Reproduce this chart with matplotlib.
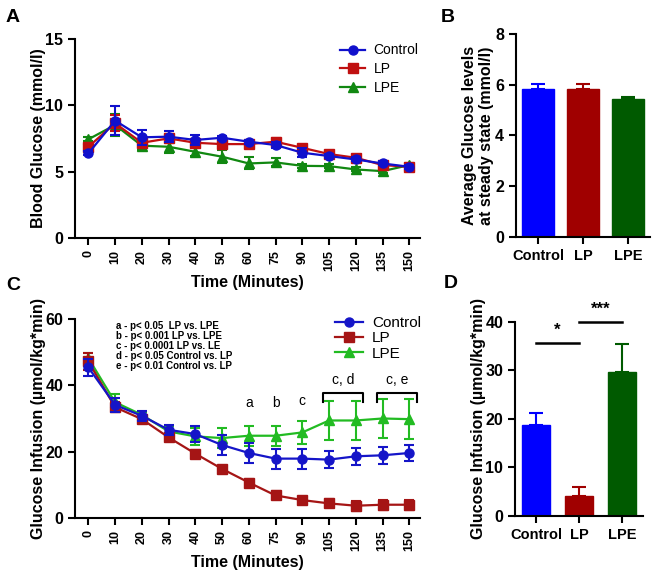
import numpy as np
import matplotlib
matplotlib.use('Agg')
import matplotlib.pyplot as plt
from matplotlib.lines import Line2D

plt.rcParams['font.family'] = ['Liberation Sans', 'DejaVu Sans']

# Panel A/C time points (categorical)
times = ["0", "10", "20", "30", "40", "50", "60", "75", "90", "105", "120", "135", "150"]
groups = ["Control", "LP", "LPE"]

# Panel A: blood glucose (mmol/l)
glu_control = [6.38, 8.85, 7.59, 7.64, 7.39, 7.56, 7.26, 7.01, 6.43, 6.18, 5.92, 5.62, 5.37]
glu_control_err = [0.15, 1.1, 0.55, 0.4, 0.4, 0.15, 0.15, 0.2, 0.35, 0.15, 0.15, 0.15, 0.15]
glu_lp = [6.88, 8.65, 7.18, 7.51, 7.18, 7.08, 7.08, 7.26, 6.80, 6.33, 6.05, 5.50, 5.37]
glu_lp_err = [0.3, 0.6, 0.3, 0.35, 0.25, 0.25, 0.2, 0.3, 0.2, 0.15, 0.15, 0.15, 0.15]
glu_lpe = [7.44, 8.52, 6.96, 6.88, 6.50, 6.13, 5.62, 5.70, 5.44, 5.42, 5.17, 5.04, 5.50]
glu_lpe_err = [0.15, 0.8, 0.3, 0.45, 0.35, 0.5, 0.45, 0.3, 0.15, 0.15, 0.15, 0.15, 0.15]

# Panel B: average glucose at steady state
avg_glu = [5.83, 5.83, 5.42]
avg_glu_err = [0.19, 0.19, 0.1]

# Panel C: glucose infusion (umol/kg*min)
inf_control = [45.4, 34.1, 30.8, 26.6, 25.3, 22.0, 19.6, 17.9, 17.9, 17.6, 18.6, 18.9, 19.6]
inf_control_err = [2.5, 2.0, 1.5, 1.5, 2.5, 3.0, 3.0, 3.0, 3.0, 2.5, 2.5, 2.5, 2.5]
inf_lp = [47.2, 33.4, 29.8, 24.3, 19.4, 14.8, 10.7, 6.8, 5.4, 4.4, 3.7, 4.0, 4.0]
inf_lp_err = [2.5, 1.5, 1.0, 1.0, 1.0, 1.0, 1.0, 1.2, 1.0, 1.2, 1.5, 1.5, 1.5]
inf_lpe = [48.2, 34.9, 31.1, 26.1, 24.6, 24.1, 24.8, 24.8, 25.8, 29.4, 29.4, 30.0, 29.8]
inf_lpe_err = [1.5, 2.5, 1.0, 1.5, 2.5, 3.0, 3.0, 3.0, 3.5, 5.8, 5.8, 6.0, 6.0]

# Panel D: average glucose infusion
avg_inf = [18.7, 4.2, 29.7]
avg_inf_err = [2.5, 1.7, 5.7]

stats_lines = ["a - p< 0.05  LP vs. LPE",
               "b - p< 0.001 LP vs. LPE",
               "c - p< 0.0001 LP vs. LE",
               "d - p< 0.05 Control vs. LP",
               "e - p< 0.01 Control vs. LP"]

fig = plt.figure(figsize=(6.66, 5.73), dpi=100)
axA = fig.add_axes([0.1126, 0.5846, 0.518, 0.3473])
axB = fig.add_axes([0.7748, 0.5864, 0.2012, 0.3543])
axC = fig.add_axes([0.1126, 0.0960, 0.518, 0.3473])
axD = fig.add_axes([0.7733, 0.0995, 0.1922, 0.3386])


def style_axes(ax):
    for s in ['top', 'right']:
        ax.spines[s].set_visible(False)
    for s in ['left', 'bottom']:
        ax.spines[s].set_linewidth(1.5)
    ax.tick_params(width=1.5, length=5)
    for lab in ax.get_yticklabels():
        lab.set_fontweight('bold')
        lab.set_fontsize(11.5)
    for lab in ax.get_xticklabels():
        lab.set_fontweight('bold')


def line_panel(ax, series, colors, ylim, yticks, ylabel, legsize, legspacing, anchor):
    x = np.arange(len(times))
    markers = ['o', 's', '^']
    # draw LPE first so Control sits on top
    for i in [2, 1, 0]:
        y, e = series[i]
        ax.errorbar(x, y, yerr=e, color=colors[i], marker=markers[i], ms=6.5,
                    lw=1.6, elinewidth=1.5, capsize=3.5, capthick=1.5,
                    zorder=3 + (2 - i))
    handles = [Line2D([], [], color=colors[i], marker=markers[i], ms=6.5, lw=1.6)
               for i in range(3)]
    ax.set_xlim(-0.5, 12.4)
    ax.set_ylim(*ylim)
    ax.set_yticks(yticks)
    ax.set_xticks(x)
    ax.set_xticklabels(times, rotation=90, fontsize=9)
    ax.set_xlabel("Time (Minutes)", fontsize=11.5, fontweight='bold', labelpad=3)
    ax.set_ylabel(ylabel, fontsize=11.5, fontweight='bold')
    ax.yaxis.set_label_coords(-0.084, 0.5)
    style_axes(ax)
    ax.legend(handles=handles, labels=groups, loc='upper right', frameon=False,
              fontsize=legsize, handlelength=1.8, labelspacing=legspacing,
              handletextpad=0.6, bbox_to_anchor=anchor, borderaxespad=0.2)


def bar_panel(ax, vals, errs, colors, ylim, yticks, ylabel, width, labx):
    x = np.arange(len(groups))
    ax.bar(x, vals, width=width, color=colors, edgecolor=colors, linewidth=1, zorder=2)
    for xi, v, e, c in zip(x, vals, errs, colors):
        ax.errorbar(xi, v, yerr=[[0], [e]], color=c, capsize=5, capthick=1.5,
                    elinewidth=1.5, zorder=3)
    ax.set_xlim(-0.49, 2.49)
    ax.set_ylim(*ylim)
    ax.set_yticks(yticks)
    ax.set_xticks(x)
    ax.set_xticklabels(groups, fontsize=10.5)
    ax.set_ylabel(ylabel, fontsize=11.5, fontweight='bold')
    ax.yaxis.set_label_coords(labx, 0.5)
    style_axes(ax)


# Panel A
line_panel(axA, [(glu_control, glu_control_err), (glu_lp, glu_lp_err), (glu_lpe, glu_lpe_err)],
           ['#1010CC', '#C01010', '#118811'], (0, 15), [0, 5, 10, 15],
           "Blood Glucose (mmol/l)", 10, 0.35, (1.02, 1.02))

# Panel B
bar_panel(axB, avg_glu, avg_glu_err, ['#0000FF', '#A00000', '#005A00'], (0, 8),
          [0, 2, 4, 6, 8], "Average Glucose levels\nat steady state (mmol/l)", 0.73, -0.165)

# Panel C
line_panel(axC, [(inf_control, inf_control_err), (inf_lp, inf_lp_err), (inf_lpe, inf_lpe_err)],
           ['#1515C8', '#A51515', '#22BB22'], (0, 60), [0, 20, 40, 60],
           "Glucose Infusion (\u00b5mol/kg*min)", 11, 0.08, (1.03, 1.06))
for i, line in enumerate(stats_lines):
    axC.text(1.05, 59.3 - i * 3.0, line, fontsize=7, fontweight='bold', va='top', ha='left')
for idx, lab in [(6, "a"), (7, "b")]:
    axC.text(idx, 34.6, lab, fontsize=10, ha='center', va='center')
axC.text(8, 35.2, "c", fontsize=10, ha='center', va='center')
for x0, x1, lab in [(8.78, 10.28, "c, d"), (10.8, 12.3, "c, e")]:
    axC.plot([x0, x0, x1, x1], [35.0, 37.7, 37.7, 35.0], color='black', lw=1.5, clip_on=False)
    axC.text((x0 + x1) / 2, 41.6, lab, fontsize=10, ha='center', va='center')

# Panel D
bar_panel(axD, avg_inf, avg_inf_err, ['#0000FF', '#A00000', '#005A00'], (0, 40),
          [0, 10, 20, 30, 40], "Glucose Infusion (\u00b5mol/kg*min)", 0.65, -0.227)
axD.plot([0, 1], [35.7, 35.7], color='black', lw=1.8, clip_on=False)
axD.text(0.5, 36.8, "*", fontsize=12, ha='center', va='bottom', fontweight='bold')
axD.plot([1, 2], [40, 40], color='black', lw=1.8, clip_on=False)
axD.text(1.5, 41.0, "***", fontsize=12, ha='center', va='bottom', fontweight='bold')

# Panel letters
for (px, py, letter) in [(13, 18, "A"), (448, 18, "B"), (13, 285, "C"), (451, 284, "D")]:
    fig.text(px / 666, 1 - py / 573, letter, fontsize=14, fontweight='heavy',
             ha='center', va='center')

fig.savefig("out.png", dpi=100)
